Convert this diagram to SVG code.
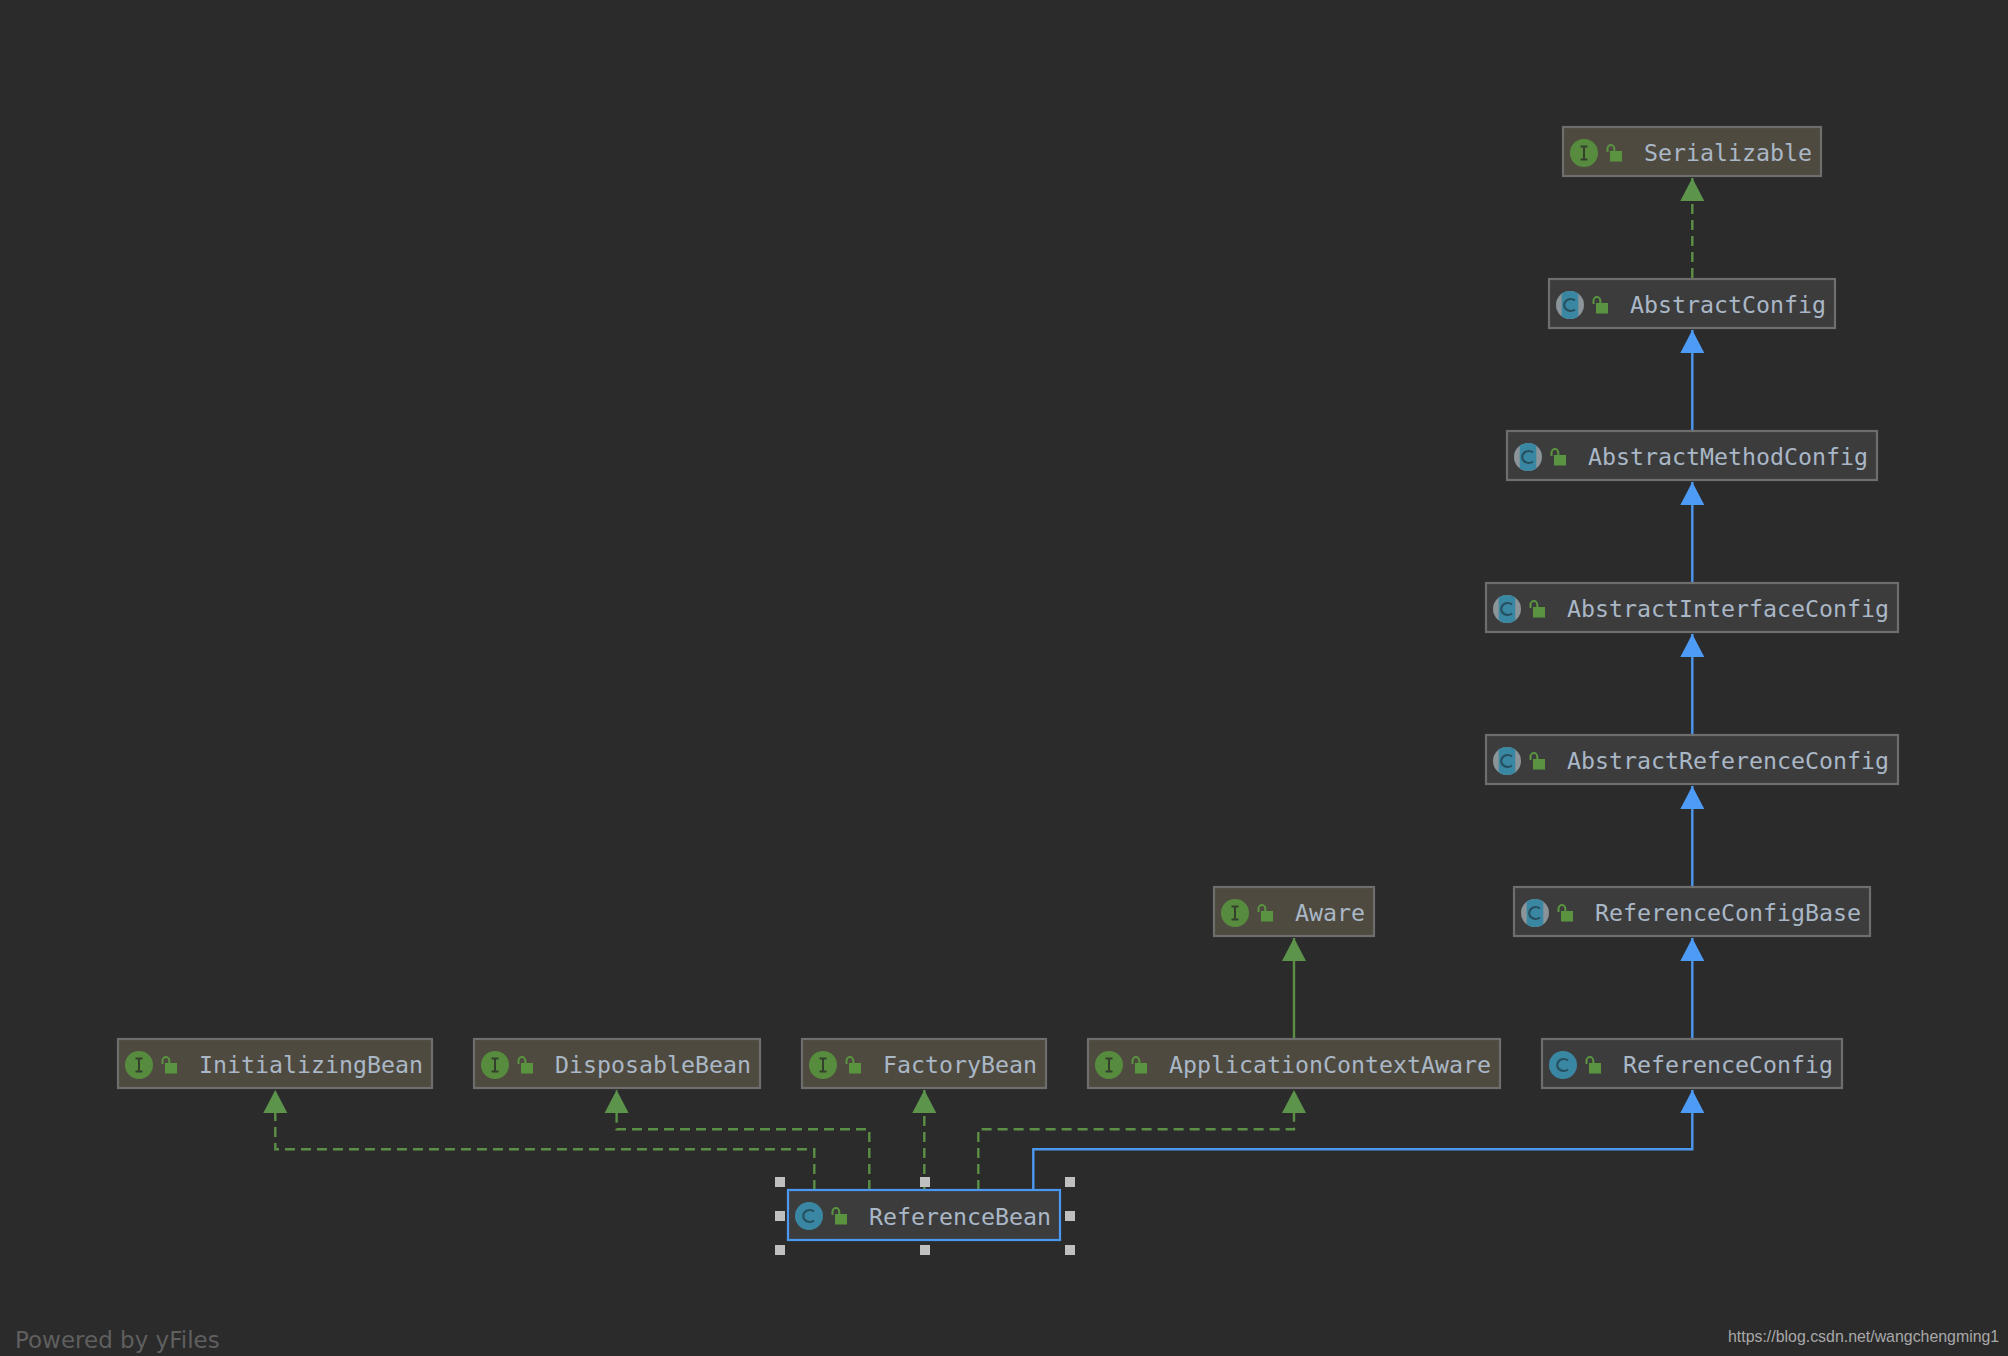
<svg xmlns="http://www.w3.org/2000/svg" xmlns:xlink="http://www.w3.org/1999/xlink" width="2008" height="1356" viewBox="0 0 2008 1356">
<style>
.box{stroke:#6e6e6e;stroke-width:2.2}
.i{fill:#4f4a3f}
.c{fill:#3c3c3c}
.sel{stroke:#4c98f0}
.t{font-family:"DejaVu Sans Mono","Liberation Mono",monospace;font-size:23.25px;fill:#a9b7c6}
.e{fill:none;stroke-width:2.4}
.g{stroke:#5a8f45}
.b{stroke:#4c98f0}
.d{stroke-dasharray:10 6}
.h{fill:#c0c0c0}
</style>
<defs>
<marker id="ag" markerUnits="userSpaceOnUse" markerWidth="24" markerHeight="24" refX="12" refY="0" orient="0" overflow="visible"><path d="M12 0L24 23H0Z" fill="#5c944c"/></marker>
<marker id="ab" markerUnits="userSpaceOnUse" markerWidth="24" markerHeight="24" refX="12" refY="0" orient="0" overflow="visible"><path d="M12 0L24 23H0Z" fill="#4e9bf5"/></marker>
<g id="lock"><path d="M44.5 -1V-4.5a3.4 3.4 0 0 1 6.8 0V-2" fill="none" stroke="#5a9440" stroke-width="2"/><rect x="47" y="-2" width="12" height="10.5" fill="#5a9440"/></g>
<clipPath id="band"><rect x="-8.3" y="-14" width="16.6" height="28"/></clipPath>
<g id="ii"><circle r="14" fill="#578c3f"/><path d="M-3.5 -6.5H3.5M-3.5 6.5H3.5M0 -6.5V6.5" stroke="#33402b" stroke-width="2" fill="none"/></g>
<g id="ic"><circle r="14" fill="#3a87a3"/><path d="M5 -4.5A6.5 6 0 1 0 5 4.5" fill="none" stroke="#27505f" stroke-width="2.2"/></g>
<g id="ia"><circle r="14" fill="#8a9499"/><circle r="14" fill="#3a87a3" clip-path="url(#band)"/><path d="M5 -4.5A6.5 6 0 1 0 5 4.5" fill="none" stroke="#27505f" stroke-width="2.2"/></g>
</defs>
<rect width="2008" height="1356" fill="#2b2b2b"/>
<g id="connectors">
<path class="e g d" d="M1692.3 278V178" marker-end="url(#ag)"/>
<path class="e b" d="M1692.3 430V330" marker-end="url(#ab)"/>
<path class="e b" d="M1692.3 582V482" marker-end="url(#ab)"/>
<path class="e b" d="M1692.3 734V634" marker-end="url(#ab)"/>
<path class="e b" d="M1692.3 886V786" marker-end="url(#ab)"/>
<path class="e b" d="M1692.3 1038V938" marker-end="url(#ab)"/>
<path class="e g" d="M1294 1038V938" marker-end="url(#ag)"/>
<path class="e g d" d="M814.3 1190V1149.3H275.3V1090" marker-end="url(#ag)"/>
<path class="e g d" d="M869.3 1190V1129.3H616.6V1090" marker-end="url(#ag)"/>
<path class="e g d" d="M924.3 1190V1090" marker-end="url(#ag)"/>
<path class="e g d" d="M978.3 1190V1129.3H1294V1090" marker-end="url(#ag)"/>
<path class="e b" d="M1033.3 1190V1149.3H1692.3V1090" marker-end="url(#ab)"/>
</g>
<g id="n-Serializable" transform="translate(1563,127)"><rect class="box i" width="258" height="49"/><use href="#ii" x="21" y="26"/><use href="#lock" y="26"/><text class="t" x="81" y="34">Serializable</text></g>
<g id="n-AbstractConfig" transform="translate(1549,279)"><rect class="box c" width="286" height="49"/><use href="#ia" x="21" y="26"/><use href="#lock" y="26"/><text class="t" x="81" y="34">AbstractConfig</text></g>
<g id="n-AbstractMethodConfig" transform="translate(1507,431)"><rect class="box c" width="370" height="49"/><use href="#ia" x="21" y="26"/><use href="#lock" y="26"/><text class="t" x="81" y="34">AbstractMethodConfig</text></g>
<g id="n-AbstractInterfaceConfig" transform="translate(1486,583)"><rect class="box c" width="412" height="49"/><use href="#ia" x="21" y="26"/><use href="#lock" y="26"/><text class="t" x="81" y="34">AbstractInterfaceConfig</text></g>
<g id="n-AbstractReferenceConfig" transform="translate(1486,735)"><rect class="box c" width="412" height="49"/><use href="#ia" x="21" y="26"/><use href="#lock" y="26"/><text class="t" x="81" y="34">AbstractReferenceConfig</text></g>
<g id="n-ReferenceConfigBase" transform="translate(1514,887)"><rect class="box c" width="356" height="49"/><use href="#ia" x="21" y="26"/><use href="#lock" y="26"/><text class="t" x="81" y="34">ReferenceConfigBase</text></g>
<g id="n-Aware" transform="translate(1214,887)"><rect class="box i" width="160" height="49"/><use href="#ii" x="21" y="26"/><use href="#lock" y="26"/><text class="t" x="81" y="34">Aware</text></g>
<g id="n-InitializingBean" transform="translate(118,1039)"><rect class="box i" width="314" height="49"/><use href="#ii" x="21" y="26"/><use href="#lock" y="26"/><text class="t" x="81" y="34">InitializingBean</text></g>
<g id="n-DisposableBean" transform="translate(474,1039)"><rect class="box i" width="286" height="49"/><use href="#ii" x="21" y="26"/><use href="#lock" y="26"/><text class="t" x="81" y="34">DisposableBean</text></g>
<g id="n-FactoryBean" transform="translate(802,1039)"><rect class="box i" width="244" height="49"/><use href="#ii" x="21" y="26"/><use href="#lock" y="26"/><text class="t" x="81" y="34">FactoryBean</text></g>
<g id="n-ApplicationContextAware" transform="translate(1088,1039)"><rect class="box i" width="412" height="49"/><use href="#ii" x="21" y="26"/><use href="#lock" y="26"/><text class="t" x="81" y="34">ApplicationContextAware</text></g>
<g id="n-ReferenceConfig" transform="translate(1542,1039)"><rect class="box c" width="300" height="49"/><use href="#ic" x="21" y="26"/><use href="#lock" y="26"/><text class="t" x="81" y="34">ReferenceConfig</text></g>
<g id="n-ReferenceBean" transform="translate(788,1190)"><rect class="box c sel" width="272" height="50"/><use href="#ic" x="21" y="26"/><use href="#lock" y="26"/><text class="t" x="81" y="34.5">ReferenceBean</text></g>
<g id="selection-handles">
<rect class="h" x="775" y="1177" width="10" height="10"/><rect class="h" x="920" y="1177" width="10" height="10"/><rect class="h" x="1065" y="1177" width="10" height="10"/>
<rect class="h" x="775" y="1211" width="10" height="10"/><rect class="h" x="1065" y="1211" width="10" height="10"/>
<rect class="h" x="775" y="1245" width="10" height="10"/><rect class="h" x="920" y="1245" width="10" height="10"/><rect class="h" x="1065" y="1245" width="10" height="10"/>
</g>
<text x="15" y="1348" font-family="'DejaVu Sans',sans-serif" font-size="23" fill="#5f5f5f">Powered by yFiles</text>
<text x="1728" y="1342" font-family="'Liberation Sans',sans-serif" font-size="15.9" fill="#a8a8a8">https://blog.csdn.net/wangchengming1</text>
</svg>
